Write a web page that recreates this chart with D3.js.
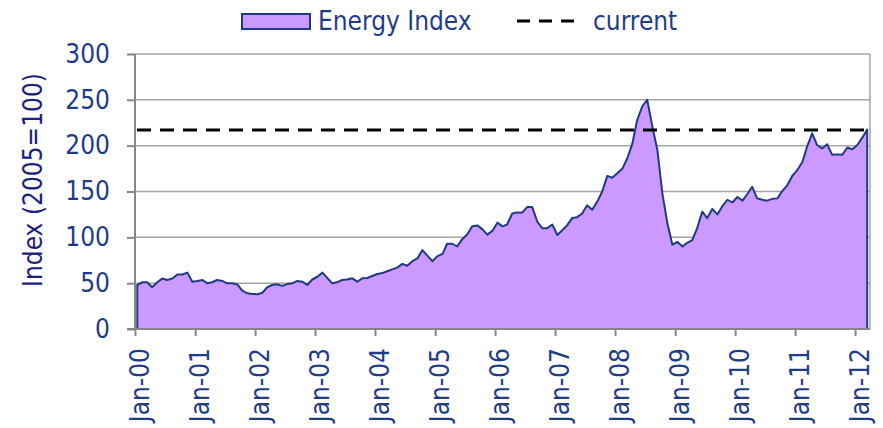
<!DOCTYPE html>
<html>
<head>
<meta charset="utf-8">
<script src="https://cdn.jsdelivr.net/npm/d3@7"></script>
<style>
  body { margin: 0; background: #fff; }
  svg { display: block; font-family: "DejaVu Sans Condensed", "DejaVu Sans", sans-serif; }
</style>
</head>
<body>
<svg></svg>
<script>
// monthly energy index, Jan-00 .. Mar-12 (2005=100)
var startYear = 2000
var energyIndex = [
  48, 51, 51, 45.5, 51, 55, 53.5, 55, 59.5, 59.5, 61.5, 51.5,   // 2000
  52.4, 53.5, 50, 51, 53.5, 52.4, 49.8, 49.8, 48.7, 41.8, 38.9, 38.2, // 2001
  38, 39.6, 45.5, 48, 48.7, 47, 49, 49.8, 52.4, 51.6, 48, 54,   // 2002
  57, 61.5, 56, 49.8, 50.9, 53.5, 54, 55.3, 51.6, 55.3, 55.6, 57.8, // 2003
  60, 61, 63, 65, 67, 71, 69, 74, 77, 86, 80, 74,               // 2004
  79.5, 82, 93, 93, 90, 98, 103, 112, 113, 109, 103, 107,       // 2005
  116, 112, 114, 126, 127, 127, 133, 133, 117, 110, 110, 114,   // 2006
  102.5, 108, 113, 121, 122, 126, 135, 130, 139, 150, 167, 165, // 2007
  170, 175, 186, 202, 228, 243, 250, 221, 195, 148, 115, 92,    // 2008
  95, 90, 94, 97, 110, 128, 121, 131, 125, 134, 141, 138,       // 2009
  144, 140, 147, 155, 142.5, 141, 140, 142, 142.5, 150.5, 157, 167, // 2010
  173.5, 182.5, 199, 213.5, 200.7, 197, 201.5, 190, 190.5, 190, 198, 196, // 2011
  200.7, 209, 217.5                                             // 2012
]
var current = 217
var yTicks = [0, 50, 100, 150, 200, 250, 300]
var xTickLabels = ["Jan-00","Jan-01","Jan-02","Jan-03","Jan-04","Jan-05","Jan-06",
                   "Jan-07","Jan-08","Jan-09","Jan-10","Jan-11","Jan-12"]

var screen = {width:883, height:428}
var plot = {left:135, right:870, top:54, bottom:329}
var navy = "#1F3A85"
var textBlue = "#1F3C88"
var fill = "#CC99FF"

var svg = d3.select("svg")
  .attr("width", screen.width)
  .attr("height", screen.height)

// points sit mid-month on a date axis
var data = energyIndex.map(function(v,i){
  return {date: new Date(startYear, i, 15), value: v}
})

var xScale = d3.scaleTime()
  .domain([new Date(2000,0,1), new Date(2012,3,1)])
  .range([plot.left, plot.right])

var yScale = d3.scaleLinear()
  .domain([0,300])
  .range([plot.bottom, plot.top])

var tickDates = xTickLabels.map(function(d,i){ return new Date(startYear+i,0,1) })

//gridlines
svg.append("g")
  .selectAll("line")
  .data(yTicks.filter(function(d){ return d>0 }))
  .enter().append("line")
  .attr("x1", plot.left).attr("x2", plot.right)
  .attr("y1", function(d){ return yScale(d) })
  .attr("y2", function(d){ return yScale(d) })
  .attr("stroke", "#A6A6A6")
  .attr("stroke-width", 1.5)

svg.append("line")
  .attr("x1", plot.right).attr("x2", plot.right)
  .attr("y1", plot.top).attr("y2", plot.bottom)
  .attr("stroke", "#A6A6A6")
  .attr("stroke-width", 1.5)

//area
var area = d3.area()
  .x(function(d){ return xScale(d.date) })
  .y0(yScale(0))
  .y1(function(d){ return yScale(d.value) })

svg.append("path")
  .datum(data)
  .attr("d", area)
  .attr("fill", fill)
  .attr("stroke", navy)
  .attr("stroke-width", 2)
  .attr("stroke-linejoin", "round")

//current level
svg.append("line")
  .attr("x1", plot.left+2).attr("x2", plot.right-2)
  .attr("y1", yScale(current)).attr("y2", yScale(current))
  .attr("stroke", "#000")
  .attr("stroke-width", 3)
  .attr("stroke-dasharray", "14,9")

//axes
var yAxis = d3.axisLeft(yScale)
  .tickValues(yTicks)
  .tickSize(8)
  .tickPadding(17)

var xAxis = d3.axisBottom(xScale)
  .tickValues(tickDates)
  .tickFormat(function(d,i){ return xTickLabels[i] })
  .tickSize(7)

var gy = svg.append("g")
  .attr("transform","translate("+plot.left+",0)")
  .call(yAxis)

var gx = svg.append("g")
  .attr("transform","translate(0,"+plot.bottom+")")
  .call(xAxis)

svg.selectAll(".domain").attr("stroke", "#868686").attr("stroke-width", 2)
svg.selectAll(".tick line").attr("stroke", "#868686").attr("stroke-width", 2)
gy.select(".domain").attr("d", "M0,"+plot.top+"V"+plot.bottom)
gx.select(".domain").attr("d", "M"+(plot.left-8)+",0H"+plot.right)

svg.selectAll(".tick text")
  .attr("fill", textBlue)
  .style("font-size", "26px")
  .style("font-family", "'DejaVu Sans Condensed', 'DejaVu Sans', sans-serif")

gx.selectAll(".tick text")
  .attr("transform", "rotate(-90)")
  .attr("text-anchor", "end")
  .attr("x", -19)
  .attr("y", 0)
  .attr("dy", "0.52em")

//y title
svg.append("text")
  .attr("transform", "translate(42,180) rotate(-90)")
  .attr("text-anchor", "middle")
  .attr("fill", "#1A237E")
  .style("font-size", "26px")
  .text("Index (2005=100)")

//legend
var legend = svg.append("g")
legend.append("rect")
  .attr("x", 242).attr("y", 14)
  .attr("width", 68).attr("height", 15)
  .attr("fill", fill)
  .attr("stroke", navy)
  .attr("stroke-width", 2)
legend.append("text")
  .attr("x", 318).attr("y", 30)
  .attr("fill", textBlue)
  .style("font-size", "26px")
  .text("Energy Index")
legend.append("line")
  .attr("x1", 517).attr("x2", 575)
  .attr("y1", 21).attr("y2", 21)
  .attr("stroke", "#000")
  .attr("stroke-width", 3)
  .attr("stroke-dasharray", "13,9")
legend.append("text")
  .attr("x", 593).attr("y", 30)
  .attr("fill", textBlue)
  .style("font-size", "26px")
  .text("current")
</script>
</body>
</html>
